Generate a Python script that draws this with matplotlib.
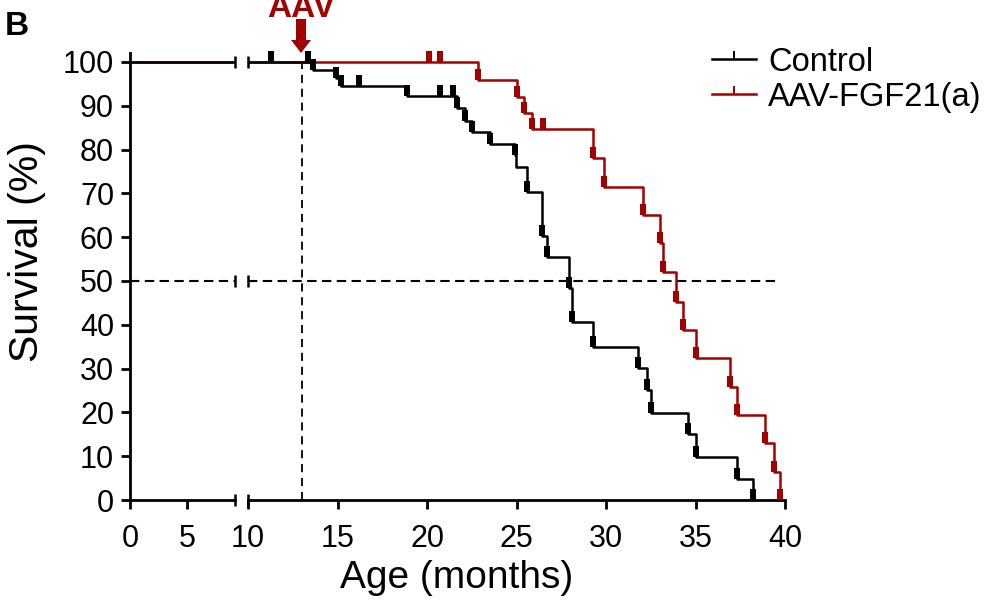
import numpy as np
import matplotlib
matplotlib.use("Agg")
import matplotlib.pyplot as plt
from matplotlib.path import Path
from matplotlib.lines import Line2D
from matplotlib.patches import Polygon

plt.rcParams['font.family'] = ['Liberation Sans', 'DejaVu Sans']

# ---------------- data ----------------
ctrl_times = [0, 13.65, 14.9, 15.2, 18.9, 21.7, 22.1, 22.5, 23.5, 24.9, 24.95, 25.6,
              26.4, 26.7, 27.95, 28.1, 29.3, 31.8, 32.3, 32.5, 34.6, 35.0, 37.3, 38.2]
ctrl_surv = [100, 98.2, 96.3, 94.4, 92.2, 89.5, 86.6, 84.1, 81.3, 78.8, 76.1, 70.4,
             60.3, 55.5, 48.5, 40.7, 35.0, 30.1, 25.1, 19.9, 15.1, 9.9, 4.8, 0]
ctrl_censor = [11.3, 13.35, 13.65, 14.9, 15.2, 16.2, 18.9, 20.7, 21.45, 21.7, 22.1, 22.5,
               23.5, 24.9, 25.6, 26.4, 26.7, 27.95, 28.1, 29.3, 31.8, 32.3, 32.5,
               34.6, 35.0, 37.3, 38.2]

fgf_times = [0, 22.87, 25.0, 25.4, 25.85, 29.3, 29.9, 32.05, 33.0, 33.2, 33.9, 34.3,
             35.0, 36.9, 37.3, 38.9, 39.4, 39.7]
fgf_surv = [100, 95.9, 92.1, 88.4, 84.6, 78.0, 71.5, 65.1, 58.6, 52.1, 45.3, 38.8,
            32.4, 25.9, 19.4, 12.9, 6.5, 0]
fgf_censor = [20.1, 20.7, 22.87, 25.0, 25.4, 25.85, 26.5, 29.3, 29.9, 32.05, 33.0, 33.2,
              33.9, 34.3, 35.0, 36.9, 37.3, 38.9, 39.4, 39.7]

series_labels = ['Control', 'AAV-FGF21(a)']
colors = ['black', '#a30000']
left_ticks = [0, 5]
right_ticks = [10, 15, 20, 25, 30, 35, 40]
y_ticks = [0, 10, 20, 30, 40, 50, 60, 70, 80, 90, 100]
aav_month = 13
median_level = 50

# --------------- figure ---------------
W, H = 1000, 610
fig = plt.figure(figsize=(W / 100, H / 100), dpi=100)

def fx(px):
    return px / W

def fy(py):
    return 1 - py / H

bot = fy(500)
top = fy(53.2)
axL = fig.add_axes([fx(130), bot, fx(235) - fx(130), top - bot])
axR = fig.add_axes([fx(248), bot, fx(785) - fx(248), top - bot])
LMAX = 9.2

block = Path([(-0.27, 0), (0.27, 0), (0.27, 1), (-0.27, 1), (-0.27, 0)],
             [Path.MOVETO, Path.LINETO, Path.LINETO, Path.LINETO, Path.CLOSEPOLY])
thin = Path([(-0.1, 0), (0.1, 0), (0.1, 1), (-0.1, 1), (-0.1, 0)],
            [Path.MOVETO, Path.LINETO, Path.LINETO, Path.LINETO, Path.CLOSEPOLY])

def surv_at(times, surv, t):
    idx = np.searchsorted(np.asarray(times), np.asarray(t), side='right') - 1
    return np.asarray(surv)[idx]

data = [(fgf_times, fgf_surv, fgf_censor, colors[1]),
        (ctrl_times, ctrl_surv, ctrl_censor, colors[0])]

lw = 1.8
for ax in (axL, axR):
    for k, (t, s, c, col) in enumerate(data):
        ax.step(t, s, where='post', color=col, lw=lw, zorder=3 + k)
        cs = surv_at(t, s, c)
        if ax is axL:
            m = np.asarray(c) <= LMAX
        else:
            m = np.asarray(c) >= 10
        ax.plot(np.asarray(c)[m], cs[m], ls='none', marker=block, ms=15.8,
                mfc=col, mec=col, mew=0, clip_on=False, zorder=3 + k)

# dashed reference lines
dash = (0, (4.5, 2.6))
axL.plot([0, LMAX], [median_level, median_level], color='black', lw=1.5, ls=dash, zorder=2)
axR.plot([10, 39.7], [median_level, median_level], color='black', lw=1.5, ls=dash, zorder=2)
axR.plot([aav_month, aav_month], [0, 100], color='black', lw=1.3, ls=(0, (4.5, 3.2)), zorder=2)

# break caps
for yv in (0, median_level, 100):
    axL.plot([LMAX], [yv], marker='|', ms=8.5, mew=1.8, color='black', clip_on=False, zorder=6)
    axR.plot([10], [yv], marker='|', ms=8.5, mew=1.8, color='black', clip_on=False, zorder=6)

for ax in (axL, axR):
    ax.set_ylim(0, 102)
    for sp in ('top', 'right'):
        ax.spines[sp].set_visible(False)
    ax.spines['bottom'].set_linewidth(2.0)
    ax.spines['left'].set_linewidth(2.0)
    ax.tick_params(axis='both', width=2.0, length=6.5, labelsize=22)
    ax.tick_params(axis='y', pad=5)
    ax.tick_params(axis='x', pad=10.5)
    ax.patch.set_visible(False)

axL.set_xlim(0, LMAX)
axL.set_xticks(left_ticks)
axL.set_yticks(y_ticks)
axR.set_xlim(10, 40)
axR.set_xticks(right_ticks)
axR.spines['left'].set_visible(False)
axR.set_yticks([])

fig.text(fx(457), fy(578), 'Age (months)', fontsize=28, ha='center', va='center')
fig.text(fx(27), fy(252), 'Survival (%)', fontsize=29.5, ha='center', va='center', rotation=90)

# panel letter
fig.text(fx(5), fy(35), 'B', fontsize=24, fontweight='bold', ha='left', va='baseline')

# AAV annotation
fig.text(fx(301), fy(17), 'AAV', fontsize=24, fontweight='bold', color=colors[1],
         ha='center', va='baseline')
arrow = [(296, 19), (306, 19), (306, 40), (311, 40), (301, 53), (291, 40), (296, 40)]
fig.patches.append(Polygon([(fx(a), fy(b)) for a, b in arrow], closed=True,
                           transform=fig.transFigure, facecolor=colors[1],
                           edgecolor='none', zorder=10))

# legend
handles = [Line2D([0], [0], color=colors[0], lw=lw, marker=thin, ms=12, mfc=colors[0], mec=colors[0], mew=0),
           Line2D([0], [0], color=colors[1], lw=lw, marker=thin, ms=12, mfc=colors[1], mec=colors[1], mew=0)]
fig.legend(handles, series_labels, loc='upper left', bbox_to_anchor=(fx(702), fy(37)),
           frameon=False, fontsize=23.5, handlelength=1.35, handletextpad=0.38,
           labelspacing=0.12, borderaxespad=0, borderpad=0.3)

fig.savefig('out.png', dpi=100)
